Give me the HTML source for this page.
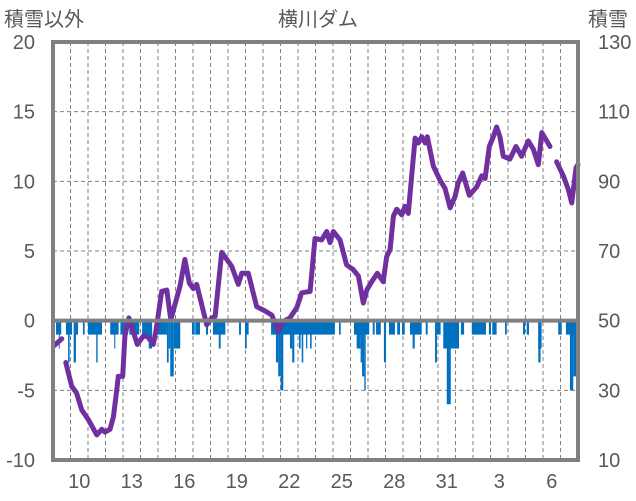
<!DOCTYPE html>
<html><head><meta charset="utf-8"><style>
html,body{margin:0;padding:0;background:#fff;}
svg{display:block;}
text{font-family:"Liberation Sans","Noto Sans CJK JP",sans-serif;fill:#595959;}
</style></head><body>
<svg id="chart" width="636" height="501" viewBox="0 0 636 501" xmlns="http://www.w3.org/2000/svg">
<text x="4" y="26" font-size="20" style="font-family:'Noto Sans CJK JP',sans-serif">積雪以外</text>
<text x="318" y="26" font-size="20" text-anchor="middle" style="font-family:'Noto Sans CJK JP',sans-serif">横川ダム</text>
<text x="588" y="26" font-size="20" style="font-family:'Noto Sans CJK JP',sans-serif">積雪</text>
<g id="grid"></g><g id="bars"></g><g id="lines"></g><g id="frame"></g><g id="labels"></g>
</svg>
<script>
const leftTicks=[-10,-5,0,5,10,15,20];
const rightTicks=[10,30,50,70,90,110,130];
const dayLabels=["10","13","16","19","22","25","28","31","3","6"];
const dayLabelIdx=[1,4,7,10,13,16,19,22,25,28];
const numDays=30;
// line series: time in days from start, value (null = gap)
const lineT=[0.06,0.50,0.60,0.73,1.07,1.35,1.64,2.02,2.50,2.78,2.97,3.26,3.45,3.64,3.73,3.98,4.11,4.34,4.82,5.16,5.41,5.73,5.89,6.21,6.50,6.73,7.26,7.54,7.79,8.02,8.21,8.78,9.07,9.26,9.64,9.93,10.21,10.59,10.78,11.16,11.64,12.11,12.50,12.87,13.16,13.54,13.93,14.21,14.69,14.97,15.35,15.64,15.83,16.02,16.40,16.78,17.16,17.45,17.73,17.93,18.21,18.53,18.87,19.07,19.26,19.45,19.64,19.93,20.11,20.30,20.69,20.87,21.07,21.26,21.39,21.73,22.11,22.40,22.69,22.97,23.16,23.41,23.79,24.21,24.50,24.69,24.93,25.16,25.35,25.54,25.73,26.11,26.46,26.78,27.16,27.45,27.73,27.93,28.21,28.40,28.60,28.78,29.16,29.45,29.64,29.89,30.0];
const lineV=[-1.8,-1.3,null,-3.0,-4.7,-5.2,-6.4,-7.1,-8.2,-7.8,-8.0,-7.8,-6.9,-5.0,-4.0,-4.0,-1.1,0.2,-1.7,-1.1,-1.15,-1.7,-0.65,2.1,2.2,0.07,2.5,4.4,2.7,2.3,2.6,-0.3,0.2,0.3,4.9,4.4,3.9,2.6,3.4,3.4,1.0,0.7,0.4,-0.77,-0.05,0.2,0.93,2.0,2.1,5.9,5.8,6.4,5.6,6.4,5.8,4.0,3.66,3.2,1.27,2.2,2.8,3.4,2.8,4.6,5.1,7.5,8.0,7.6,8.2,7.7,13.1,12.75,13.2,12.75,13.2,11.1,10.1,9.5,8.1,8.9,9.9,10.6,9.0,9.6,10.4,10.2,12.5,13.2,13.9,13.2,11.8,11.6,12.5,11.8,12.9,12.3,11.2,13.5,12.9,12.5,null,11.4,10.4,9.4,8.45,11.0,11.2];
// bars: start day, end day, value
const barStart=[0.17,0.33,0.74,0.86,1.18,1.31,1.71,2.00,2.47,3.27,3.50,3.85,4.02,4.36,5.09,5.47,5.96,6.51,6.61,6.70,6.90,7.94,8.13,8.74,9.14,9.47,10.63,10.97,10.97,12.46,12.74,12.87,13.01,13.16,13.54,13.67,14.06,14.21,14.46,14.69,16.34,17.20,17.35,17.58,17.66,17.79,18.27,18.46,18.91,19.20,19.67,19.94,20.40,20.55,21.30,21.83,21.94,22.30,22.50,23.31,23.93,24.91,25.10,25.83,26.86,27.07,27.73,27.73,28.87,29.31,29.54,29.73,29.89];
const barEnd=[0.47,0.38,1.09,0.95,1.31,1.43,1.81,2.80,2.55,3.75,3.56,4.25,4.11,4.93,5.66,5.66,6.51,6.61,6.70,6.90,7.27,8.10,8.40,8.86,9.85,9.58,10.74,11.18,11.07,13.16,12.87,13.01,13.16,16.11,13.67,13.79,14.15,14.30,14.53,14.78,16.44,18.07,17.58,17.66,17.79,17.87,18.38,18.73,19.03,19.54,19.83,20.10,21.07,20.67,21.41,21.94,22.15,23.20,22.73,23.49,24.74,25.03,25.35,25.93,26.97,27.20,27.92,27.86,29.07,30.0,29.73,29.89,30.0];
const barVal=[-1,-2,-1,-3,-3,-1,-1,-1,-3,-1,-2,-1,-2,-1,-1,-2,-1,-3,-2,-4,-2,-1,-1,-1,-1,-2,-1,-1,-2,-1,-3,-4,-5,-1,-2,-3,-2,-3,-2,-2,-1,-1,-2,-3,-4,-5,-1,-1,-3,-1,-1,-1,-1,-2,-1,-3,-1,-2,-6,-1,-1,-1,-1,-1,-1,-1,-2,-3,-1,-1,-5,-4,-2];

const X0=53,X1=578,Y0=42,Y1=460,VMIN=-10,VMAX=20;
const xs=t=>X0+(X1-X0)*t/numDays;
const ys=v=>Y1-(v-VMIN)/(VMAX-VMIN)*(Y1-Y0);
const yr=v=>Y1-(v-10)/120*(Y1-Y0);
const NS="http://www.w3.org/2000/svg";
function mk(tag,parent,attrs){const e=document.createElementNS(NS,tag);for(const k in attrs)e.setAttribute(k,attrs[k]);document.getElementById(parent).appendChild(e);return e;}

for(let d=1;d<numDays;d++){
  const e=mk('line','grid',{x1:xs(d),x2:xs(d),y1:Y0,y2:Y1,stroke:'#808080','stroke-width':1,'stroke-dasharray':'4,3'});
  
  
}
leftTicks.forEach(v=>{
  if(v!==VMIN&&v!==VMAX&&v!==0){
    const e=mk('line','grid',{x1:X0,x2:X1,y1:ys(v),y2:ys(v),stroke:'#808080','stroke-width':1,'stroke-dasharray':'4,3'});
    
    
  }
  const t=mk('text','labels',{x:35,y:ys(v)+7,'font-size':20,'text-anchor':'end'});
  t.textContent=String(v);
  
  
});
rightTicks.forEach(v=>{
  const t=mk('text','labels',{x:598,y:yr(v)+7,'font-size':20});
  t.textContent=String(v);
  
  
});
dayLabels.forEach((s,i)=>{
  const t=mk('text','labels',{x:xs(dayLabelIdx[i]+0.5),y:488,'font-size':20,'text-anchor':'middle'});
  t.textContent=s;
  
  
});
for(let i=0;i<barVal.length;i++){
  const xa=xs(barStart[i]),xb=xs(barEnd[i]);
  const r=mk('rect','bars',{x:xa,y:ys(0),width:Math.max(1,xb-xa),height:ys(barVal[i])-ys(0),fill:'#0070C0'});
  
  
}
let seg=[];
function flush(){
  if(seg.length>1){
    const p=mk('polyline','lines',{points:seg.join(' '),fill:'none',stroke:'#7030A0','stroke-width':5,'stroke-linejoin':'round','stroke-linecap':'round'});
    
    
  }
  seg=[];
}
for(let i=0;i<lineT.length;i++){
  if(lineV[i]===null){flush();continue;}
  seg.push(xs(lineT[i]).toFixed(1)+','+ys(lineV[i]).toFixed(1));
}
flush();
const z=mk('line','frame',{x1:X0,x2:X1,y1:ys(0),y2:ys(0),stroke:'#808080','stroke-width':4});


const f=mk('rect','frame',{x:X0,y:Y0,width:X1-X0,height:Y1-Y0,fill:'none',stroke:'#808080','stroke-width':4});


</script>
</body></html>
